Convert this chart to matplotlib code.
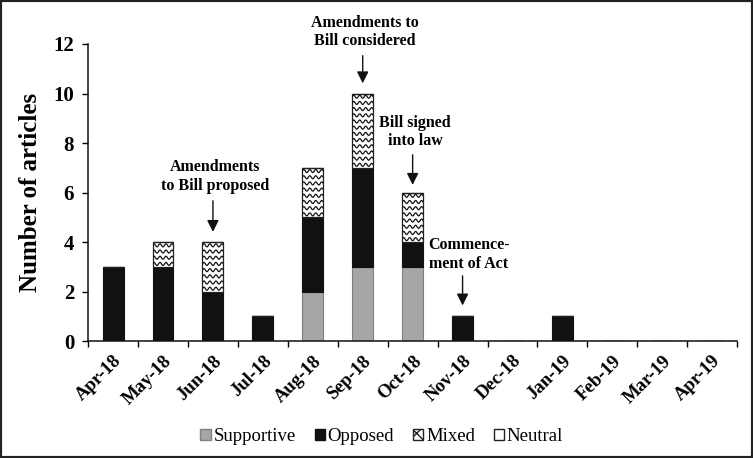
import numpy as np
import matplotlib
matplotlib.use("Agg")
import matplotlib.pyplot as plt
from matplotlib.patches import Patch, Rectangle

# data
months = ["Apr-18", "May-18", "Jun-18", "Jul-18", "Aug-18", "Sep-18", "Oct-18",
          "Nov-18", "Dec-18", "Jan-19", "Feb-19", "Mar-19", "Apr-19"]
supportive = [0, 0, 0, 0, 2, 3, 3, 0, 0, 0, 0, 0, 0]
opposed = [3, 3, 2, 1, 3, 4, 1, 1, 0, 1, 0, 0, 0]
mixed = [0, 1, 2, 0, 2, 3, 2, 0, 0, 0, 0, 0, 0]
neutral = [0, 0, 0, 0, 0, 0, 0, 0, 0, 0, 0, 0, 0]

# (month index, label, text y, arrow tail y, arrow tip y)
events = [(2, "Amendments\nto Bill proposed", 5.95, 5.78, 4.3),
          (5, "Amendments to\nBill considered", 11.8, 11.64, 10.3),
          (6, "Bill signed\ninto law", 7.75, 7.64, 6.2),
          (7, "Commence-\nment of Act", 2.8, 2.75, 1.33)]

plt.rcParams['font.family'] = ['Liberation Serif', 'DejaVu Serif']

fig = plt.figure(figsize=(7.53, 4.58), dpi=100)
ax = fig.add_axes([0.117, 0.255, 0.862, 0.649])

x = np.arange(len(months))
w = 0.42
sup = np.array(supportive)
opp = np.array(opposed)
mix = np.array(mixed)
neu = np.array(neutral)

ax.bar(x, sup, w, color='#a6a6a6', edgecolor='#808080', linewidth=0.8)
ax.bar(x, opp, w, bottom=sup, color='#111111', edgecolor='#111111', linewidth=0.8)
mix_bars = ax.bar(x, mix, w, bottom=sup + opp, color='white', edgecolor='#222222', linewidth=0.9)
ax.bar(x, neu, w, bottom=sup + opp + mix, color='white', edgecolor='#222222', linewidth=0.9)

# wavy fill for the "Mixed" segments, clipped to each bar
for b in mix_bars:
    if b.get_height() <= 0:
        continue
    x0 = b.get_x()
    y0 = b.get_y()
    xs = np.linspace(x0 - 0.05, x0 + w + 0.05, 120)
    for yy in np.arange(y0 + 0.12, y0 + b.get_height() + 0.2, 0.25):
        ys = yy + 0.06 * np.sin(2 * np.pi * (xs - x0) / 0.12)
        ln, = ax.plot(xs, ys, color='#111111', lw=0.9)
        ln.set_clip_path(b)

for i, label, ty, y1, y2 in events:
    ax.annotate("", xy=(i, y2), xytext=(i, y1),
                arrowprops=dict(arrowstyle='-|>,head_length=0.7,head_width=0.35',
                                color='#111111', lw=1.0), annotation_clip=False)
    tx = i + 0.12 if i == 7 else i + 0.05
    ax.text(tx, ty, label, ha='center', va='bottom', fontsize=11.5,
            fontweight='bold', linespacing=1.2, clip_on=False)

ax.set_xlim(-0.5, len(months) - 0.5)
ax.set_ylim(0, 12)
ax.set_yticks(range(0, 13, 2))
ax.set_xticks(x)
ax.set_xticklabels(months, rotation=45, ha='right', rotation_mode='anchor',
                   fontsize=13.5, fontweight='bold')
ax.set_xticks(np.arange(-0.5, len(months), 1), minor=True)
ax.tick_params(axis='x', which='major', length=0, pad=8)
ax.tick_params(axis='x', which='minor', length=4, direction='out', width=1)
ax.tick_params(axis='y', length=4, direction='out', width=1, labelsize=15, pad=6)
for t in ax.get_yticklabels():
    t.set_fontweight('bold')
ax.set_ylabel("Number of articles", fontsize=18, fontweight='bold', labelpad=8)

for s in ['top', 'right']:
    ax.spines[s].set_visible(False)
for s in ['left', 'bottom']:
    ax.spines[s].set_linewidth(1.1)
    ax.spines[s].set_color('#111111')

handles = [Patch(facecolor='#a6a6a6', edgecolor='#808080', label='Supportive'),
           Patch(facecolor='#111111', edgecolor='#111111', label='Opposed'),
           Patch(facecolor='white', edgecolor='#222222', hatch='xx', label='Mixed'),
           Patch(facecolor='white', edgecolor='#222222', label='Neutral')]
fig.legend(handles=handles, loc='center', bbox_to_anchor=(0.507, 0.046), ncol=4,
           frameon=False, fontsize=13.5, handlelength=0.55, handleheight=0.55,
           handletextpad=0.15, columnspacing=1.0)

fig.patches.append(Rectangle((0, 0), 1, 1, transform=fig.transFigure, fill=False,
                             lw=3, ec='#222222'))

fig.savefig("out.png", dpi=100)
